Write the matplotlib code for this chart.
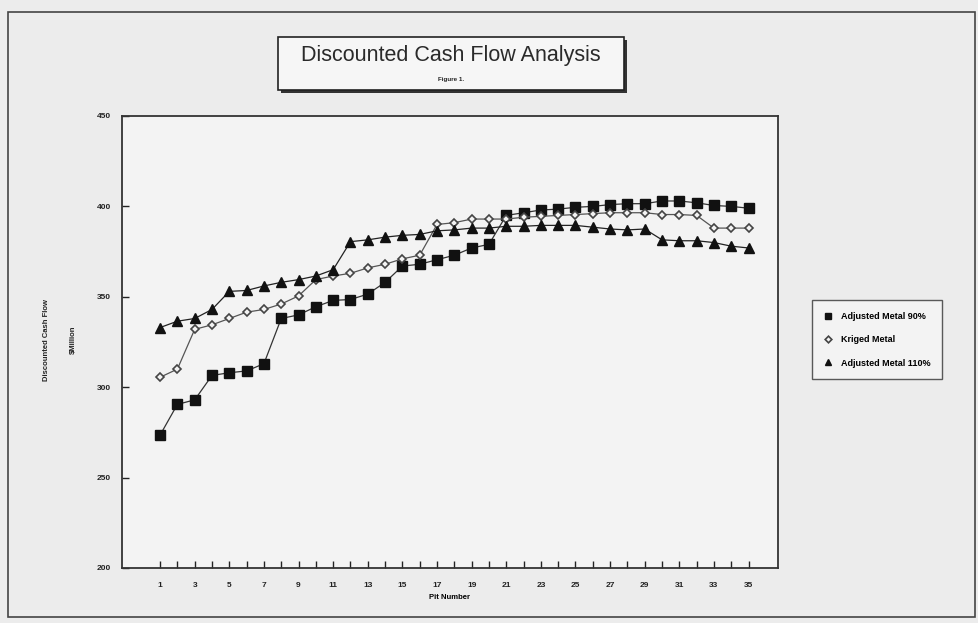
import matplotlib
matplotlib.use("Agg")
import matplotlib.pyplot as plt
from matplotlib.patches import Rectangle

plt.rcParams['font.family'] = ['Liberation Sans', 'DejaVu Sans']

# pit-by-pit discounted cash flow, $ million
pits = list(range(1, 36))
adj_90 = [273.5, 290.5, 293, 306.5, 308, 309, 313, 338, 340, 344.5,
          348, 348.5, 351.5, 358, 367, 368, 370.5, 373, 377, 379,
          395, 396.5, 398, 398.5, 399.5, 400, 401, 401.5, 401.5, 403,
          403, 402, 400.5, 400, 399]
kriged = [305.5, 310, 332, 334.5, 338, 341.5, 343, 346, 350.5, 359.5,
          361.5, 363, 366, 368, 371, 373, 390, 391, 393, 393,
          393, 394, 394.5, 395, 395.5, 396, 396.5, 396.5, 396.5, 395.5,
          395.5, 395, 388, 388, 388]
adj_110 = [333, 336.5, 338, 343, 353, 353.5, 356, 358, 359.5, 361.5,
           365, 380.5, 381.5, 383, 384, 384.5, 386.5, 387, 388, 388,
           389, 389, 389.5, 389.5, 389.5, 388.5, 387.5, 387, 387.5, 381.5,
           381, 381, 380, 378, 377]
series_names = ["Adjusted Metal 90%", "Kriged Metal", "Adjusted Metal 110%"]
y_ticks = [200, 250, 300, 350, 400, 450]

W, H = 979, 623
fig = plt.figure(figsize=(W / 100, H / 100), dpi=100, facecolor='#ececec')


def px_box(x0, y0, x1, y1):
    # pixel box (top-left origin) -> figure fractions
    return (x0 / W, 1 - y1 / H, (x1 - x0) / W, (y1 - y0) / H)


# page frame
fx, fy, fw, fh = px_box(8, 12, 975, 617)
fig.patches.append(Rectangle((fx, fy), fw, fh, transform=fig.transFigure,
                             fill=False, ec='#444444', lw=1.2))

# title box with shadow
tx, ty, tw, th = px_box(278, 37, 624, 90)
fig.patches.append(Rectangle((tx + 3 / W, ty - 3 / H), tw, th, transform=fig.transFigure,
                             fc='#333333', ec='none'))
fig.patches.append(Rectangle((tx, ty), tw, th, transform=fig.transFigure,
                             fc='#f6f6f6', ec='#222222', lw=1.2))
fig.text((278 + 624) / 2 / W, 1 - 55 / H, "Discounted Cash Flow Analysis",
         ha='center', va='center', fontsize=15.5, color='#2a2a2a')
fig.text((278 + 624) / 2 / W, 1 - 79 / H, "Figure 1.",
         ha='center', va='center', fontsize=4.5, fontweight='bold', color='#222222')

ax = fig.add_axes(px_box(122, 116, 778, 568))
ax.set_facecolor('#f3f3f3')

ax.plot(pits, adj_90, color='#333333', lw=0.9, marker='s', ms=6.5,
        mfc='#111111', mec='#111111', label=series_names[0], zorder=3)
ax.plot(pits, kriged, color='#555555', lw=0.9, marker='D', ms=4.5,
        mfc='#f3f3f3', mec='#444444', mew=1.2, label=series_names[1], zorder=4)
ax.plot(pits, adj_110, color='#222222', lw=0.9, marker='^', ms=6.5,
        mfc='#111111', mec='#111111', label=series_names[2], zorder=5)

ax.set_xlim(-1.2, 36.7)
ax.set_ylim(200, 450)
ax.set_yticks(y_ticks)
ax.set_yticklabels([str(v) for v in y_ticks], fontsize=6, fontweight='bold')
ax.set_xticks(pits)
ax.set_xticklabels([str(p) if p % 2 == 1 else '' for p in pits], fontsize=6,
                   fontweight='bold')
ax.tick_params(axis='both', direction='in', length=5, width=1, colors='#222222',
               pad=8)
ax.tick_params(axis='x', pad=10)
for s in ax.spines.values():
    s.set_color('#333333')
    s.set_linewidth(1.3)

ax.set_xlabel("Pit Number", fontsize=5.5, fontweight='bold', labelpad=4)

fig.text(47 / W, 1 - 340 / H, "Discounted Cash Flow", rotation=90,
         ha='center', va='center', fontsize=5.5, fontweight='bold', color='#222222')
fig.text(73 / W, 1 - 340 / H, "$Million", rotation=90,
         ha='center', va='center', fontsize=5.5, fontweight='bold', color='#222222')

# legend box to the right of the plot
leg = fig.legend(loc='upper left', bbox_to_anchor=(812 / W, 1 - 300 / H),
                 prop={'size': 6.5, 'weight': 'bold'}, frameon=True, fancybox=False,
                 edgecolor='#333333', facecolor='#f6f6f6', borderpad=1.3,
                 labelspacing=1.6, handlelength=1.0, handletextpad=0.9,
                 borderaxespad=0, markerscale=0.75)
leg.get_frame().set_linewidth(1.0)
for h in leg.legend_handles:
    h.set_linestyle('none')

fig.savefig("out.png", dpi=100, facecolor=fig.get_facecolor())
